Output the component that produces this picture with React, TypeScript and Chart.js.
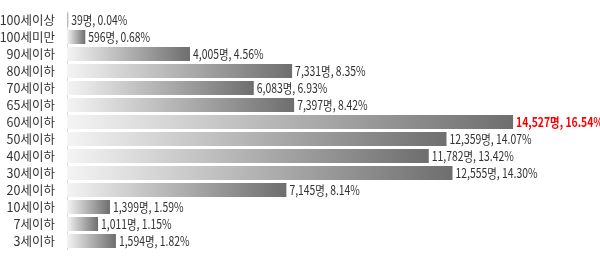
import React, { useEffect, useRef } from "react";
import { Chart, registerables } from "chart.js";

Chart.register(...registerables);

const categories = ["100세이상", "100세미만", "90세이하", "80세이하", "70세이하", "65세이하", "60세이하", "50세이하", "40세이하", "30세이하", "20세이하", "10세이하", "7세이하", "3세이하"];
const counts = [39, 596, 4005, 7331, 6083, 7397, 14527, 12359, 11782, 12555, 7145, 1399, 1011, 1594];
const percents = ["0.04%", "0.68%", "4.56%", "8.35%", "6.93%", "8.42%", "16.54%", "14.07%", "13.42%", "14.30%", "8.14%", "1.59%", "1.15%", "1.82%"];
const highlightIndex = 6;

const fmt = (n: number) => n.toString().replace(/\B(?=(\d{3})+(?!\d))/g, ",");

const labelPlugin = {
  id: "barLabels",
  afterDatasetsDraw(chart: any) {
    const ctx = chart.ctx;
    const meta = chart.getDatasetMeta(0);
    ctx.save();
    meta.data.forEach((bar: any, i: number) => {
      const text = `${fmt(counts[i])}명, ${percents[i]}`;
      const hi = i === highlightIndex;
      ctx.font = `${hi ? "bold " : ""}13px "Noto Sans CJK KR"`;
      ctx.fillStyle = hi ? "#ff0000" : "#333333";
      ctx.textBaseline = "middle";
      ctx.textAlign = "left";
      ctx.save();
      ctx.translate(bar.x + 3, bar.y);
      ctx.scale(0.8, 1);
      ctx.fillText(text, 0, 0);
      ctx.restore();
    });
    ctx.restore();
  },
};

export default function App() {
  const ref = useRef<HTMLCanvasElement | null>(null);
  useEffect(() => {
    if (!ref.current) return;
    const chart = new Chart(ref.current, {
      type: "bar",
      data: {
        labels: categories,
        datasets: [
          {
            data: counts,
            backgroundColor: (c: any) => {
              const ch = c.chart;
              const xs = ch.scales && ch.scales.x;
              if (!xs || c.dataIndex === undefined) return "#aaaaaa";
              const x0 = xs.getPixelForValue(0);
              const x1 = xs.getPixelForValue(counts[c.dataIndex]);
              if (!isFinite(x0) || !isFinite(x1) || x1 - x0 < 1) return "#aaaaaa";
              const g = ch.ctx.createLinearGradient(x0, 0, x1, 0);
              g.addColorStop(0, "#f4f4f4");
              g.addColorStop(1, "#6e6e6e");
              return g;
            },
            borderWidth: 0,
            barPercentage: 0.9,
            categoryPercentage: 0.92,
          },
        ],
      },
      options: {
        indexAxis: "y",
        animation: false,
        responsive: true,
        maintainAspectRatio: false,
        layout: { padding: { top: 5, bottom: 2, right: 11, left: 0 } },
        plugins: { legend: { display: false }, tooltip: { enabled: false } },
        scales: {
          x: { display: false, min: 0, max: 17000 },
          y: {
            afterFit: (s: any) => {
              s.width = 67;
            },
            grid: { display: false },
            border: { display: true, color: "#d9d9d9", width: 1 },
            ticks: {
              autoSkip: false,
              color: "#333333",
              padding: 4,
              font: { family: '"Noto Sans CJK KR"', size: 12.5 },
            },
          },
        },
      },
      plugins: [labelPlugin],
    } as any);
    return () => chart.destroy();
  }, []);
  return (
    <div style={{ position: "fixed", left: 0, top: 0, width: 600, height: 261, background: "#fff" }}>
      <canvas ref={ref} />
    </div>
  );
}
